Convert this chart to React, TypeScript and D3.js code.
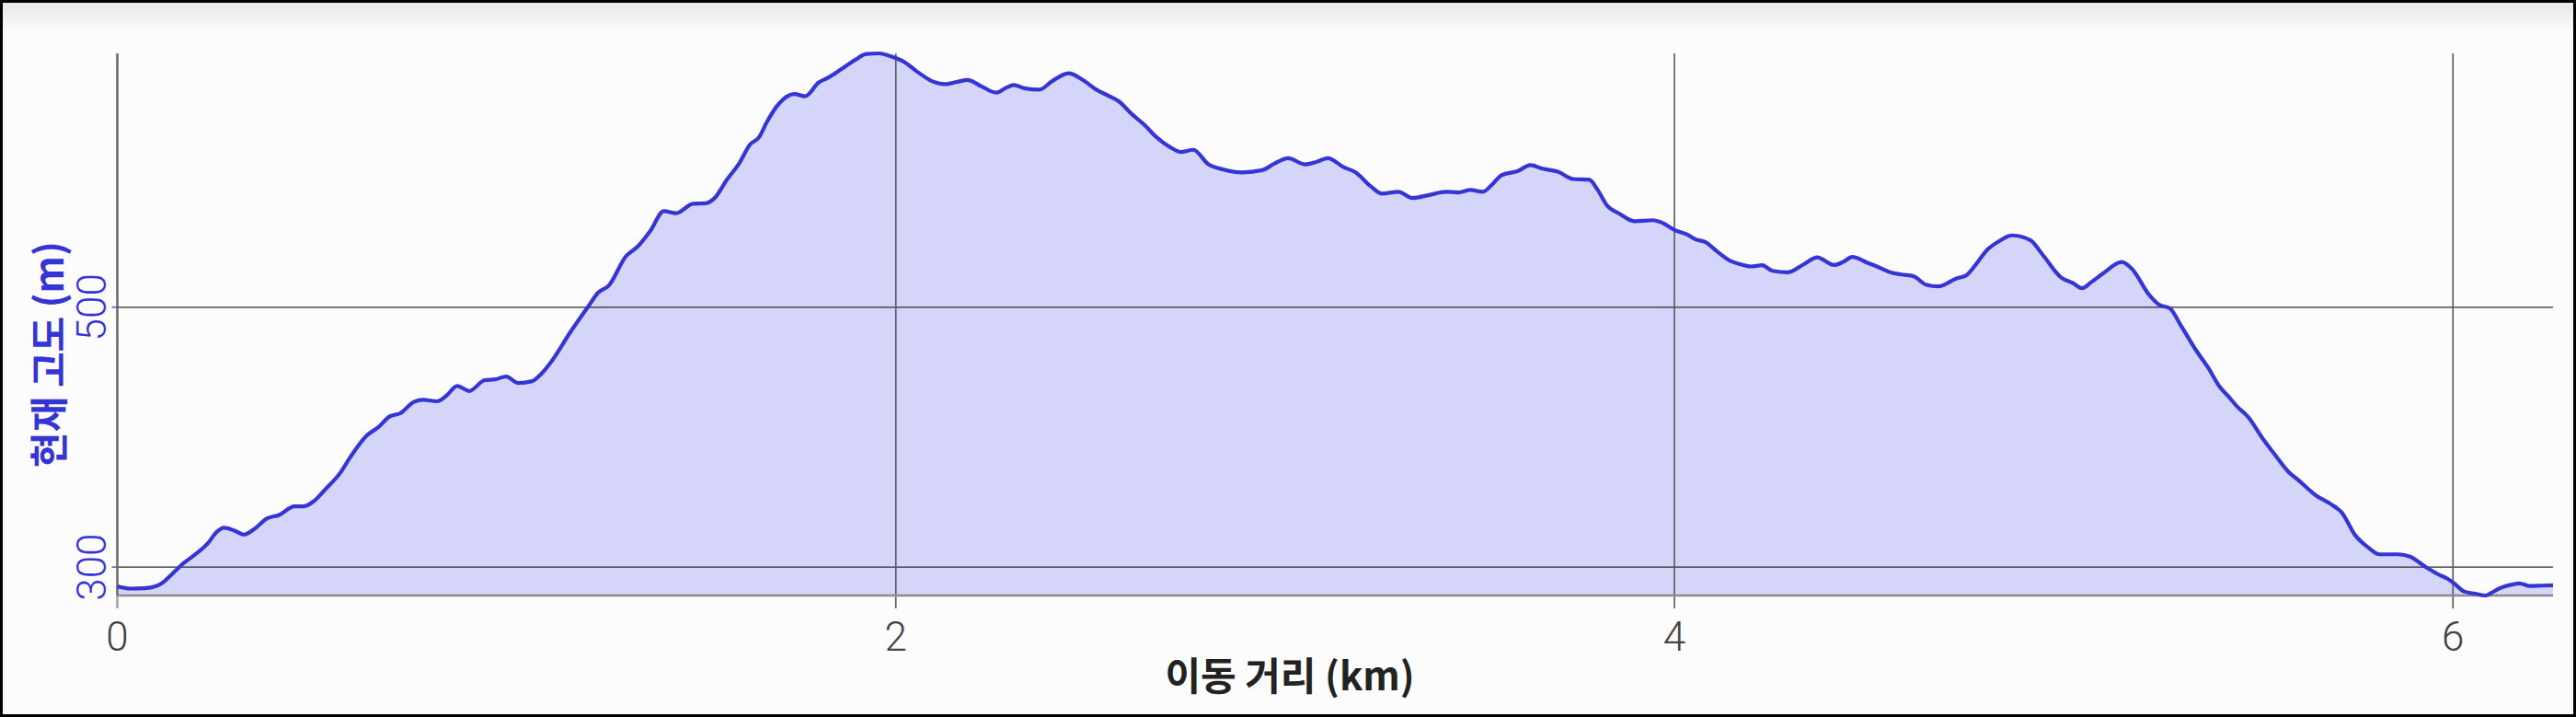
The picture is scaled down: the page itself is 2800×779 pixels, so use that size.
import React from "react";
import * as d3 from "d3";

// distance (km)
const distanceKm = [
  0.0, 0.034, 0.069, 0.1, 0.116, 0.14, 0.171, 0.203, 0.234, 0.254, 0.274, 0.301, 0.325, 0.353, 0.384, 0.416,
  0.455, 0.479, 0.506, 0.534, 0.573, 0.597, 0.64, 0.672, 0.699, 0.727, 0.762, 0.786, 0.821, 0.845, 0.873, 0.904,
  0.944, 0.971, 0.999, 1.03, 1.066, 1.089, 1.117, 1.164, 1.211, 1.235, 1.263, 1.306, 1.337, 1.369, 1.404, 1.436,
  1.479, 1.511, 1.534, 1.566, 1.597, 1.625, 1.649, 1.668, 1.7, 1.739, 1.767, 1.802, 1.826, 1.865, 1.897, 1.924,
  1.956, 1.991, 2.023, 2.054, 2.094, 2.125, 2.157, 2.184, 2.22, 2.258, 2.283, 2.303, 2.33, 2.369, 2.401, 2.444,
  2.48, 2.515, 2.543, 2.574, 2.606, 2.637, 2.669, 2.708, 2.732, 2.764, 2.803, 2.842, 2.889, 2.941, 2.972, 3.008,
  3.051, 3.078, 3.11, 3.149, 3.181, 3.22, 3.248, 3.291, 3.327, 3.37, 3.413, 3.445, 3.476, 3.508, 3.532, 3.555,
  3.598, 3.63, 3.662, 3.701, 3.74, 3.781, 3.803, 3.827, 3.858, 3.897, 3.944, 3.968, 4.0, 4.032, 4.055, 4.079,
  4.111, 4.142, 4.166, 4.197, 4.225, 4.252, 4.292, 4.331, 4.367, 4.41, 4.433, 4.457, 4.496, 4.52, 4.552, 4.583,
  4.615, 4.646, 4.678, 4.725, 4.749, 4.772, 4.804, 4.835, 4.867, 4.914, 4.946, 4.993, 5.024, 5.047, 5.072, 5.103,
  5.149, 5.174, 5.221, 5.245, 5.273, 5.3, 5.34, 5.371, 5.402, 5.422, 5.446, 5.473, 5.513, 5.54, 5.576, 5.607,
  5.647, 5.686, 5.714, 5.749, 5.781, 5.812, 5.86, 5.891, 5.93, 5.962, 5.986, 6.001, 6.029, 6.057, 6.084, 6.1,
  6.12, 6.151, 6.171, 6.198, 6.229, 6.257,
];

// current elevation (m)
const elevationM = [
  285.1, 283.4, 283.7, 285.4, 287.9, 294.4, 303.1, 310.4, 318.8, 326.6, 330.3, 328.0, 325.0, 329.5, 337.3, 340.1,
  346.8, 346.8, 351.0, 359.7, 372.6, 383.9, 401.0, 408.0, 415.8, 418.4, 427.1, 428.7, 427.6, 431.8, 439.4, 435.5,
  443.9, 444.5, 446.7, 441.7, 443.1, 448.7, 459.0, 480.9, 501.1, 511.2, 516.8, 539.0, 546.8, 558.6, 574.0, 572.4,
  579.7, 580.0, 583.9, 598.2, 610.5, 625.1, 631.0, 642.2, 656.8, 664.1, 662.4, 673.1, 676.7, 684.3, 690.7, 694.9,
  695.4, 692.7, 688.5, 681.5, 673.9, 671.7, 673.4, 675.0, 670.0, 665.2, 668.9, 671.1, 668.6, 667.5, 673.9, 680.1,
  675.0, 667.5, 663.2, 658.2, 648.7, 640.8, 631.0, 622.6, 619.5, 621.2, 610.0, 606.0, 603.8, 605.5, 610.5, 614.7,
  610.0, 611.6, 614.7, 608.0, 603.8, 593.1, 587.5, 588.9, 584.1, 586.4, 588.9, 588.4, 590.3, 588.9, 594.5, 601.5,
  604.9, 609.4, 606.6, 604.3, 598.7, 598.2, 590.3, 578.3, 572.1, 566.2, 567.0, 565.1, 559.5, 556.1, 552.2, 550.2,
  542.6, 535.9, 533.4, 531.4, 532.3, 528.0, 526.9, 532.8, 538.4, 532.5, 534.8, 538.7, 534.2, 531.4, 527.2, 525.2,
  523.8, 517.4, 516.0, 522.2, 524.4, 532.0, 544.3, 551.0, 555.3, 551.6, 540.4, 523.0, 518.5, 514.6, 519.6, 526.4,
  534.8, 530.0, 509.0, 502.0, 499.2, 486.5, 466.9, 453.5, 438.3, 431.8, 423.4, 415.8, 398.2, 387.5, 373.8, 365.9,
  355.3, 348.5, 342.1, 324.4, 315.4, 309.8, 309.8, 307.9, 300.0, 294.4, 291.0, 287.9, 281.2, 279.5, 278.1, 280.4,
  283.7, 286.5, 287.4, 285.4, 285.7, 286.0,
];

const xTicks = [0, 2, 4, 6];
const yTicks = [300, 500];
const xTitle = "이동 거리 (km)";
const yTitle = "현재 고도 (m)";

const W = 2800;
const H = 779;

export default function App() {
  const data = distanceKm.map((d, i) => ({ x: d, y: elevationM[i] }));
  const left = 127.5;
  const right = 2775;
  const top = 58;
  const bottom = 647;

  const x = d3.scaleLinear().domain([0, d3.max(distanceKm) as number]).range([left, right]);
  const y = d3.scaleLinear().domain(d3.extent(elevationM) as [number, number]).range([bottom, top]);

  const line = d3
    .line<{ x: number; y: number }>()
    .x((d) => x(d.x))
    .y((d) => y(d.y))
    .curve(d3.curveMonotoneX);
  const area = d3
    .area<{ x: number; y: number }>()
    .x((d) => x(d.x))
    .y0(bottom)
    .y1((d) => y(d.y))
    .curve(d3.curveMonotoneX);

  const blue = "#3535d6";

  return (
    <svg
      width={W}
      height={H}
      style={{ position: "absolute", left: 0, top: 0, display: "block" }}
      xmlns="http://www.w3.org/2000/svg"
    >
      <defs>
        <linearGradient id="topShade" x1="0" y1="0" x2="0" y2="1">
          <stop offset="0" stopColor="#e6e6e6" />
          <stop offset="1" stopColor="#fcfcfc" />
        </linearGradient>
      </defs>
      <rect x={0} y={0} width={W} height={H} fill="#fcfcfc" />
      <rect x={0} y={0} width={W} height={36} fill="url(#topShade)" />

      {/* area fill */}
      <path d={area(data) || ""} fill="#d5d5fa" stroke="none" />

      {/* horizontal gridlines */}
      {yTicks.map((t) => (
        <g key={"gy" + t}>
          <line x1={left} x2={right} y1={y(t)} y2={y(t)} stroke="#2a2a2a" strokeWidth={1.3} />
          <line x1={left - 6} x2={left} y1={y(t)} y2={y(t)} stroke={blue} strokeWidth={1.3} />
        </g>
      ))}

      {/* vertical gridlines */}
      {xTicks
        .filter((t) => t !== 0)
        .map((t) => (
          <line key={"gx" + t} x1={x(t)} x2={x(t)} y1={top} y2={661} stroke="#555" strokeWidth={1.6} />
        ))}

      {/* axes */}
      <line x1={left} x2={right} y1={bottom} y2={bottom} stroke="#8c8c8c" strokeWidth={2.5} />
      <line x1={left} x2={left} y1={top} y2={bottom} stroke="#666" strokeWidth={2.5} />
      <line x1={left} x2={left} y1={bottom} y2={661} stroke="#a0a0a0" strokeWidth={2.5} />

      {/* data line */}
      <path d={line(data) || ""} fill="none" stroke={blue} strokeWidth={4.2} strokeLinejoin="round" />

      {/* x tick labels */}
      {xTicks.map((t) => (
        <text
          key={"xt" + t}
          x={x(t)}
          y={707}
          textAnchor="middle"
          fontFamily="Roboto, 'Noto Sans', sans-serif"
          fontWeight={300}
          fontSize={44}
          fill="#444"
        >
          {t}
        </text>
      ))}

      {/* y tick labels */}
      {yTicks.map((t) => (
        <text
          key={"yt" + t}
          transform={`translate(115, ${y(t)}) rotate(-90)`}
          textAnchor="middle"
          fontFamily="Roboto, 'Noto Sans', sans-serif"
          fontWeight={300}
          fontSize={44}
          fill={blue}
        >
          {t}
        </text>
      ))}

      {/* axis titles */}
      <text
        x={1402}
        y={750}
        textAnchor="middle"
        fontFamily="'Noto Sans CJK KR', 'Noto Sans', sans-serif"
        fontWeight="bold"
        fontSize={42}
        fill="#222"
      >
        {xTitle}
      </text>
      <text
        transform={`translate(69, 385) rotate(-90)`}
        textAnchor="middle"
        fontFamily="'Noto Sans CJK KR', 'Noto Sans', sans-serif"
        fontWeight="bold"
        fontSize={42}
        fill={blue}
      >
        {yTitle}
      </text>

      {/* outer border */}
      <rect x={1.5} y={1.5} width={W - 3} height={H - 3} fill="none" stroke="#000" strokeWidth={3} />
    </svg>
  );
}
